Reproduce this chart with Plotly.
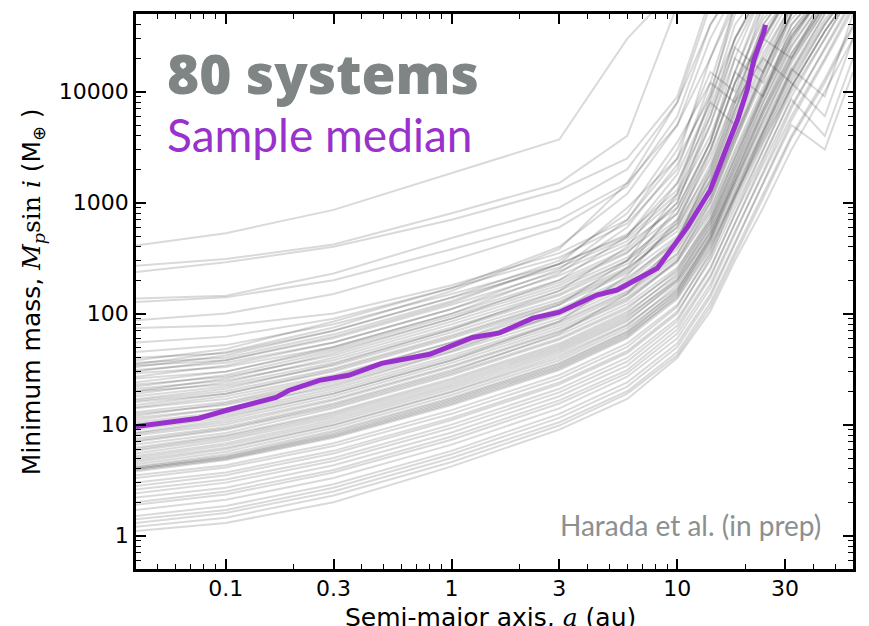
import math
import plotly.graph_objects as go

# Common semi-major-axis grid (au) at which each system's curve was read
a_grid = [0.04, 0.1, 0.3, 1, 3, 6, 10, 14, 18, 24, 32, 45, 60]

# Minimum-mass curves (M_earth) for the 80 systems, read at a_grid
systems = [
    [410, 530, 860, 1850, 3700, 30000, 90000],
    [270, 310, 420, 800, 1500, 4000, 60000],
    [237, 290, 400, 700, 1300, 2500, 9000, 70000],
    [137, 145, 230, 480, 900, 2000, 8000, 60000],
    [127, 140, 200, 380, 700, 1500, 5000, 30000, 80000],
    [87, 100, 150, 300, 600, 1400, 6000, 40000, 90000],
    [74, 78, 100, 180, 350, 700, 2500, 20000, 70000],
    [55, 62, 90, 170, 320, 650, 2000, 12000, 60000],
    [45, 52, 80, 150, 280, 500, 1500, 8000, 40000, 90000],
    [40, 44, 70, 140, 260, 480, 1200, 7000, 30000, 80000],
    [38, 48, 85, 170, 400, 1200, 5000, 20000, 60000],
    [36, 40, 65, 130, 280, 520, 1300, 9000, 60000],
    [35, 45, 75, 160, 380, 1500, 8000, 40000, 90000],
    [34, 38, 60, 120, 240, 450, 1100, 4000, 15000, 70000],
    [33, 42, 70, 140, 300, 800, 3500, 12000, 8000, 40000, 90000],
    [31, 36, 55, 110, 220, 420, 900, 3500, 20000, 80000],
    [30, 38, 62, 125, 280, 900, 2500, 9000, 30000, 90000],
    [29, 33, 50, 100, 200, 380, 1000, 6000, 30000, 90000],
    [27, 34, 55, 110, 250, 700, 3000, 15000, 10000, 60000],
    [26, 30, 48, 95, 190, 360, 800, 3000, 12000, 50000, 90000],
    [24, 30, 50, 100, 230, 600, 2200, 10000, 50000, 90000],
    [23, 27, 42, 85, 170, 320, 700, 2500, 9000, 40000, 90000],
    [22, 28, 46, 90, 180, 350, 1000, 5000, 25000, 80000],
    [21, 25, 38, 75, 150, 300, 650, 2000, 8000, 30000, 80000],
    [20, 26, 44, 90, 200, 500, 1800, 8000, 5000, 30000, 90000],
    [20, 23, 36, 72, 145, 280, 600, 1800, 7000, 25000, 70000],
    [19, 24, 40, 80, 160, 300, 800, 3500, 15000, 60000],
    [18, 22, 34, 68, 135, 260, 550, 1600, 6000, 22000, 60000],
    [17, 21, 35, 72, 160, 400, 1500, 6000, 25000, 15000, 60000],
    [16.5, 20, 32, 64, 128, 250, 600, 2200, 9000, 35000, 80000],
    [16, 19, 30, 60, 120, 230, 500, 1500, 5000, 20000, 60000],
    [15, 19, 31, 62, 125, 240, 650, 2800, 12000, 45000, 90000],
    [14.3, 18, 28, 55, 110, 210, 450, 1300, 4500, 18000, 55000],
    [14, 17, 27, 55, 120, 300, 1200, 5000, 20000, 12000, 50000, 90000],
    [13, 16, 26, 52, 105, 200, 480, 1800, 7000, 30000, 80000],
    [12.5, 15, 24, 48, 96, 180, 400, 1200, 4000, 15000, 50000, 90000],
    [12, 15.5, 25, 50, 100, 190, 450, 1600, 6500, 28000, 80000],
    [11.5, 14, 22, 45, 90, 170, 380, 1100, 3800, 14000, 45000, 90000],
    [11, 14, 23, 46, 100, 260, 900, 3500, 15000, 9000, 40000, 90000],
    [10.5, 13, 21, 42, 85, 160, 350, 1000, 3500, 13000, 40000, 90000],
    [10, 12.5, 20, 40, 82, 155, 340, 1100, 4000, 16000, 50000, 90000],
    [9.5, 12, 19, 38, 78, 150, 320, 900, 3000, 11000, 35000, 80000],
    [9, 11.5, 19, 38, 85, 220, 700, 3000, 12000, 30000, 20000, 70000],
    [8.5, 11, 18, 36, 74, 140, 300, 850, 2800, 10000, 32000, 80000],
    [8.3, 10.5, 17, 34, 70, 135, 290, 800, 2500, 9000, 30000, 80000],
    [8, 10, 16.5, 33, 68, 130, 300, 1000, 3500, 15000, 50000, 90000],
    [7.5, 9.5, 15.5, 31, 64, 122, 260, 700, 2200, 8000, 26000, 70000],
    [7.2, 9.2, 15, 30, 66, 150, 450, 2000, 8000, 20000, 12000, 40000, 90000],
    [7, 9, 14.5, 29, 60, 115, 240, 650, 2000, 7000, 22000, 60000],
    [6.6, 8.4, 14, 28, 58, 110, 250, 750, 2600, 10000, 35000, 90000],
    [6.2, 8, 13, 26, 54, 104, 220, 600, 1800, 6500, 20000, 60000],
    [6, 7.8, 12.5, 25, 52, 100, 230, 700, 2400, 9500, 32000, 80000],
    [5.8, 7.5, 12, 24, 50, 96, 200, 550, 1600, 5500, 18000, 55000],
    [5.5, 7.2, 11.5, 23, 48, 92, 210, 650, 2200, 9000, 30000, 80000],
    [5.2, 6.8, 11, 22, 46, 88, 190, 520, 1500, 5000, 16000, 9000, 50000],
    [5, 6.5, 10.5, 21, 44, 85, 200, 600, 2000, 8000, 28000, 80000],
    [4.8, 6.2, 10, 20, 42, 80, 170, 480, 1400, 4500, 15000, 45000, 90000],
    [4.6, 6, 9.8, 19.5, 40, 78, 180, 550, 1800, 7000, 25000, 70000],
    [4.4, 5.7, 9.3, 18.5, 38, 74, 160, 450, 1300, 4200, 14000, 42000, 90000],
    [4.2, 5.4, 8.8, 17.5, 36, 70, 165, 500, 1700, 6500, 22000, 65000],
    [4.1, 5.2, 8.5, 17, 35, 68, 150, 420, 1200, 4000, 13000, 40000, 90000],
    [4.0, 5.1, 8.2, 16.5, 34, 66, 155, 480, 1600, 6000, 20000, 60000],
    [4.0, 5.0, 8.0, 16, 33, 64, 140, 400, 1150, 3800, 12000, 6000, 30000],
    [3.9, 4.9, 7.8, 15.5, 32, 62, 145, 450, 1500, 5500, 19000, 55000],
    [3.8, 4.8, 7.6, 15, 31, 60, 135, 380, 1100, 3600, 11000, 35000, 80000],
    [3.5, 4.3, 6.8, 13.5, 28, 54, 120, 340, 1000, 3400, 11000, 35000, 80000],
    [3.3, 4.1, 6.4, 12.5, 26, 50, 115, 360, 1200, 4500, 16000, 50000],
    [3.0, 3.7, 5.8, 11.5, 24, 46, 105, 300, 900, 3000, 10000, 30000, 80000],
    [2.8, 3.5, 5.5, 11, 23, 44, 100, 320, 1100, 4200, 15000, 50000],
    [2.6, 3.2, 5.0, 10, 21, 40, 90, 260, 780, 2600, 8500, 4000, 20000],
    [2.4, 3.0, 4.7, 9.3, 19.5, 37, 85, 250, 800, 3000, 11000, 35000, 80000],
    [2.2, 2.7, 4.3, 8.5, 18, 34, 78, 220, 650, 2200, 7500, 24000, 65000],
    [2.0, 2.5, 3.9, 7.8, 16.5, 31, 72, 210, 650, 2400, 9000, 30000, 80000],
    [1.9, 2.35, 3.7, 7.3, 15.5, 29, 66, 185, 550, 1800, 6000, 20000, 60000],
    [1.7, 2.1, 3.3, 6.6, 14, 27, 60, 170, 520, 1900, 7000, 25000, 70000],
    [1.5, 1.85, 2.9, 5.8, 12.5, 24, 54, 150, 440, 1500, 5000, 3000, 15000],
    [1.4, 1.7, 2.7, 5.4, 11.5, 22, 50, 140, 420, 1500, 5500, 19000, 55000],
    [1.3, 1.6, 2.5, 5.0, 10.5, 20, 45, 125, 360, 1200, 4000, 13000, 40000],
    [1.2, 1.45, 2.3, 4.6, 9.8, 19, 42, 115, 330, 1100, 3800, 12000, 38000],
    [1.1, 1.3, 2.0, 4.2, 9.0, 17, 40, 105, 300, 900, 3000, 10000, 30000],
]

# Sample median curve
median_a = [0.04, 0.076, 0.1, 0.167, 0.19, 0.26, 0.35, 0.49, 0.8, 1.24, 1.63,
            2.29, 3.0, 4.4, 5.4, 8.15, 11.1, 14, 16.6, 18.5, 20.4, 21.8, 24.1, 24.6]
median_m = [9.6, 11.4, 13.4, 17.6, 20.3, 25, 27.8, 35.6, 43, 61, 67,
            91, 103, 147, 163, 256, 604, 1300, 3200, 5600, 10400, 19200, 34000, 40000]

x_major = [0.1, 0.3, 1, 3, 10, 30]
x_major_text = ["0.1", "0.3", "1", "3", "10", "30"]
x_minor = [0.05, 0.06, 0.07, 0.08, 0.09, 0.2, 0.4, 0.5, 0.6, 0.7, 0.8, 0.9,
           2, 4, 5, 6, 7, 8, 9, 20, 40, 50]
y_major = [1, 10, 100, 1000, 10000]
y_major_text = ["1", "10", "100", "1000", "10000"]
y_minor = [0.5, 0.6, 0.7, 0.8, 0.9] + [m * d for d in (1, 10, 100, 1000) for m in range(2, 10)] + [20000, 30000, 40000]

fig = go.Figure()
for row in systems:
    fig.add_trace(go.Scatter(
        x=a_grid[:len(row)], y=row, mode="lines",
        line=dict(color="rgba(0,0,0,0.15)", width=2),
        hoverinfo="skip", showlegend=False))

fig.add_trace(go.Scatter(
    x=median_a, y=median_m, mode="lines",
    line=dict(color="#9932CC", width=5), showlegend=False))

axis_common = dict(
    type="log", showline=True, linewidth=2.5, linecolor="black", mirror="ticks",
    ticks="inside", ticklen=10, tickwidth=1.5, tickcolor="black",
    showgrid=False, zeroline=False, automargin=False,
    tickfont=dict(family="DejaVu Sans", size=22, color="black"),
)

fig.update_xaxes(
    range=[math.log10(0.04), math.log10(60)],
    tickmode="array", tickvals=x_major, ticktext=x_major_text,
    ticklabelstandoff=-2,
    minor=dict(tickmode="array", tickvals=x_minor, ticks="inside", ticklen=5,
               tickwidth=1.2, tickcolor="black", showgrid=False),
    **axis_common)
fig.update_yaxes(
    range=[math.log10(0.5), math.log10(50000)],
    tickmode="array", tickvals=y_major, ticktext=y_major_text,
    minor=dict(tickmode="array", tickvals=y_minor, ticks="inside", ticklen=5,
               tickwidth=1.2, tickcolor="black", showgrid=False),
    **axis_common)

serif = "font-family:'DejaVu Serif'"
fig.add_annotation(
    xref="paper", yref="paper", x=0.495, y=-0.088, xanchor="center", yanchor="middle",
    text=f"Semi-major axis, <span style=\"{serif}\"><i>a</i></span> (au)", showarrow=False,
    font=dict(family="DejaVu Sans", size=25, color="black"))
fig.add_annotation(
    xref="paper", yref="paper", x=-0.1437, y=0.5005, xanchor="center", yanchor="middle",
    textangle=-90,
    text=(f"Minimum mass, <span style=\"{serif}\"><i>M</i><sub><i>p</i></sub>sin <i>i</i></span>"
          " (M<sub>⊕</sub> )"),
    showarrow=False, font=dict(family="DejaVu Sans", size=25, color="black"))

fig.add_annotation(
    xref="paper", yref="paper", x=0.040, y=(569 - 72) / 555, xanchor="left", yanchor="middle",
    text="80 systems", showarrow=False,
    font=dict(family="Open Sans", size=55, color="#7f8484", weight=800))
fig.add_annotation(
    xref="paper", yref="paper", x=0.040, y=(569 - 134) / 555, xanchor="left", yanchor="middle",
    text="Sample median", showarrow=False,
    font=dict(family="Lato", size=46, color="#9932CC"))
fig.add_annotation(
    xref="paper", yref="paper", x=0.958, y=0.080, xanchor="right", yanchor="middle",
    text="Harada et al. (in prep)", showarrow=False,
    font=dict(family="Lato", size=28, color="#8c9090"))

# The page body has an 8 px default margin, so the figure is shrunk by 8 px
# and its left/top margins reduced so the plot area lands where the reference has it.
fig.update_layout(
    width=861, height=618,
    margin=dict(l=128, r=16, t=6, b=57),
    paper_bgcolor="white", plot_bgcolor="white",
    showlegend=False,
)

fig.write_html("out.html")
